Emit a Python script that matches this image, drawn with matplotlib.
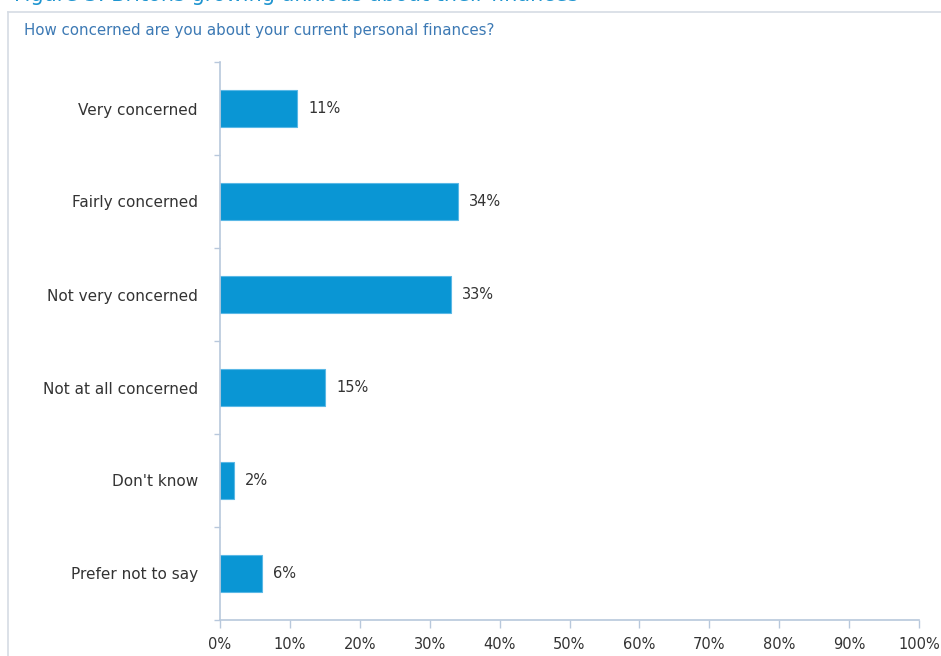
import matplotlib.pyplot as plt
import numpy as np
from matplotlib.lines import Line2D

categories = ['Very concerned', 'Fairly concerned', 'Not very concerned',
              'Not at all concerned', "Don't know", 'Prefer not to say']
values = [11, 34, 33, 15, 2, 6]
xticks = list(range(0, 101, 10))

bar_color = '#0a96d4'
axis_color = '#b8c8dc'
text_color = '#333333'
title_color = '#1f95d0'
sub_color = '#3c79b4'

plt.rcParams['font.family'] = ['DejaVu Sans']

dpi = 100
fig = plt.figure(figsize=(941 / dpi, 656 / dpi), dpi=dpi)
ax = fig.add_axes([220 / 941, 1 - 620 / 656, 699 / 941, 558 / 656])

y = np.arange(len(categories))
ax.barh(y, values, height=0.4, color=bar_color, edgecolor='#5ab8e6', linewidth=0.8)
for yi, v in zip(y, values):
    ax.text(v + 1.6, yi, '%d%%' % v, va='center', ha='left', fontsize=10.5, color=text_color)

ax.set_ylim(len(categories) - 0.5, -0.5)
ax.set_xlim(0, 100)
ax.set_yticks(y)
ax.set_yticklabels(categories, fontsize=11, color=text_color)
ax.set_yticks(np.arange(-0.5, len(categories)), minor=True)
ax.tick_params(axis='y', which='major', length=0, pad=16)
ax.tick_params(axis='y', which='minor', length=4, color=axis_color, width=1)
ax.set_xticks(xticks)
ax.set_xticklabels(['%d%%' % t for t in xticks], fontsize=10.5, color=text_color)
ax.tick_params(axis='x', length=6, color=axis_color, width=1, pad=6)

for s in ['top', 'right']:
    ax.spines[s].set_visible(False)
for s in ['left', 'bottom']:
    ax.spines[s].set_color(axis_color)
    ax.spines[s].set_linewidth(1.2)

# frame around the panel
fig.add_artist(Line2D([8 / 941, 8 / 941], [0, 1 - 12 / 656], transform=fig.transFigure,
                      color='#d6dce4', linewidth=1.2))
fig.add_artist(Line2D([8 / 941, 1], [1 - 12 / 656, 1 - 12 / 656], transform=fig.transFigure,
                      color='#d6dce4', linewidth=1.2))

fig.text(14 / 941, 1 + 5 / 656, 'Figure 3: Britons growing anxious about their finances',
         fontsize=15, color=title_color, va='center', ha='left')
fig.text(24 / 941, 1 - 31 / 656, 'How concerned are you about your current personal finances?',
         fontsize=10.8, color=sub_color, va='center', ha='left')

fig.savefig('out.png', dpi=dpi)
